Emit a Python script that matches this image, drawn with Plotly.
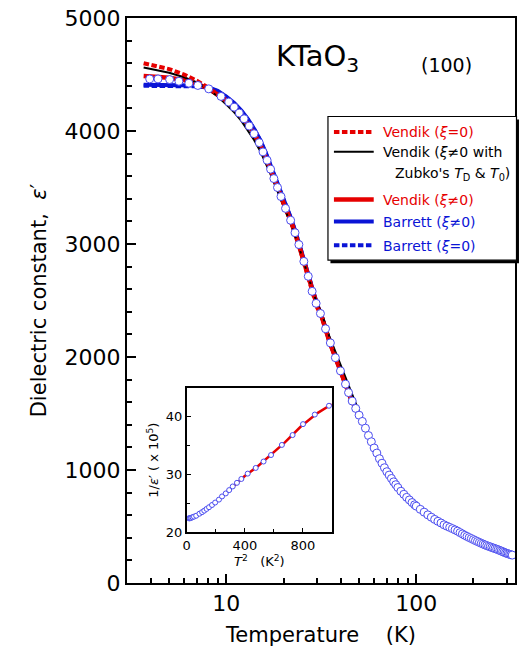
import plotly.graph_objects as go

# ---- measured dielectric constant of KTaO3 (100) ----
temp_K = [3.95, 4.37, 5.03, 5.63, 6.35, 7.08, 8.08, 9.38, 10.3, 11.0, 11.7, 12.4,
          13.2, 14.0, 14.9, 15.6, 16.4, 17.1, 17.8, 18.6, 19.4, 20.5, 21.8, 23.0,
          24.1, 25.6, 27.0, 28.3, 29.7, 31.3, 33.3, 35.3, 37.5, 39.9, 42.4, 44.0,
          46, 48, 50, 52, 54, 56, 58, 60, 62, 64, 66, 68, 70, 72, 74, 76, 78, 80,
          83, 86, 89, 92, 95, 98, 100, 105, 110, 115, 120, 125, 130, 135, 140, 145,
          150, 155, 160, 165, 170, 175, 180, 185, 190, 195, 200, 205, 210, 215, 220,
          225, 230, 235, 240, 245, 250, 255, 260, 265, 270, 275, 280, 285, 290, 295,
          300, 305, 310, 315, 320]
eps_meas = [4461, 4461, 4455, 4440, 4423, 4403, 4373, 4306, 4256, 4211, 4159, 4108,
            4044, 3976, 3897, 3815, 3741, 3662, 3579, 3500, 3420, 3315, 3210, 3100,
            2995, 2846, 2714, 2581, 2475, 2385, 2250, 2125, 1994, 1877, 1760, 1685,
            1610, 1545, 1485, 1430, 1370, 1305, 1250, 1195, 1150, 1100, 1060, 1020,
            985, 955, 925, 895, 870, 845, 812, 785, 758, 735, 712, 692, 680, 652, 627,
            603, 582, 563, 546, 531, 515, 503, 492, 481, 470, 459, 446, 434, 422, 412,
            402, 393, 384, 375, 367, 359, 351, 344, 337, 331, 325, 320, 314, 309, 304,
            299, 294, 288, 283, 277, 272, 266, 262, 258, 254, 250, 247]

# ---- model curves on a common temperature grid ----
T_fit = [3.67, 4, 5, 6, 7, 8, 9, 10, 11, 12, 13, 14, 15, 16, 17, 18, 19, 20,
         22, 24, 26, 28, 30, 31.6, 35, 40, 45, 50]
vendik_xi0 = [4600, 4585, 4548, 4500, 4445, 4385, 4325, 4265, 4205, 4135, 4058, 3975,
              3883, 3776, 3670, 3558, 3458, 3360, 3190, 2998, 2808, 2610, 2440, 2370,
              2130, 1872, 1640, 1485]
vendik_zubko = [4562, 4550, 4515, 4475, 4430, 4372, 4305, 4235, 4165, 4090, 4005, 3920,
                3830, 3730, 3628, 3525, 3425, 3330, 3165, 2985, 2810, 2630, 2475, 2400,
                2175, 1925, 1695, 1515]
vendik_xi = [4487, 4485, 4472, 4450, 4418, 4378, 4328, 4272, 4212, 4137, 4060, 3976,
             3885, 3778, 3672, 3560, 3460, 3362, 3192, 3000, 2810, 2612, 2460, 2370,
             2130, 1873, 1641, 1485]
barrett_xi = [4410, 4410, 4410, 4408, 4402, 4388, 4355, 4305, 4248, 4180, 4105, 4020,
              3928, 3822, 3715, 3600, 3495, 3395, 3220, 3022, 2830, 2628, 2470, 2375,
              2135, 1876, 1643, 1486]
barrett_xi0 = [4400, 4400, 4400, 4399, 4395, 4383, 4350, 4300, 4243, 4175, 4100, 4016,
               3924, 3818, 3711, 3596, 3491, 3391, 3217, 3020, 2828, 2625, 2467, 2373,
               2133, 1875, 1642, 1485]

RED = "#e60000"
BLUE = "#0a14d6"
MARK = "#4a4cf0"
FONT = "DejaVu Sans"
DASH = "5.5px,2.5px"

W, H = 523, 664
ML, MR, MT, MB = 127, 6, 15, 81
PW, PH = W - ML - MR, H - MT - MB


def px(x):
    return (x - ML) / PW


def py(y):
    return 1 - (y - MT) / PH


fig = go.Figure()

curves = [
    (barrett_xi0, BLUE, 4, DASH),
    (barrett_xi, BLUE, 4, "solid"),
    (vendik_xi, RED, 4.5, "solid"),
    (vendik_zubko, "black", 2, "solid"),
    (vendik_xi0, RED, 4, DASH),
]
for vals, col, lw, dash in curves:
    fig.add_trace(go.Scatter(x=T_fit, y=vals, mode="lines", showlegend=False,
                             line=dict(color=col, width=lw, dash=dash)))

fig.add_trace(go.Scatter(x=temp_K, y=eps_meas, mode="markers", showlegend=False,
                         marker=dict(symbol="circle", size=8, color="white",
                                     line=dict(color=MARK, width=1))))

# ---- inset: 1/eps' versus T^2 ----
T2_meas = [t * t for t, e in zip(temp_K, eps_meas) if t * t <= 1001]
inv_meas = [1e5 / e for t, e in zip(temp_K, eps_meas) if t * t <= 1001]
T2_fit = [t * t for t in T_fit if t * t <= 1001]
inv_fit = [1e5 / e for t, e in zip(T_fit, vendik_xi) if t * t <= 1001]

fig.add_trace(go.Scatter(x=T2_fit, y=inv_fit, mode="lines", showlegend=False,
                         xaxis="x2", yaxis="y2", line=dict(color=RED, width=2.5)))
fig.add_trace(go.Scatter(x=T2_meas, y=inv_meas, mode="markers", showlegend=False,
                         xaxis="x2", yaxis="y2",
                         marker=dict(symbol="circle", size=5, color="white",
                                     line=dict(color=MARK, width=1))))

axis_common = dict(showline=True, linecolor="black", mirror=True, showgrid=False,
                   zeroline=False, ticks="inside", tickcolor="black")

fig.update_layout(
    width=W, height=H,
    margin=dict(l=ML, r=MR, t=MT, b=MB),
    paper_bgcolor="white", plot_bgcolor="white",
    font=dict(family=FONT, color="black"),
    xaxis=dict(type="log", range=[0.4771, 2.5198], linewidth=2,
               tickvals=[10, 100], ticktext=["10", "100"], ticklen=9, tickwidth=1.5,
               minor=dict(tickvals=[4, 5, 6, 7, 8, 9, 20, 30, 40, 50, 60, 70, 80, 90,
                                    200, 300],
                          ticks="inside", ticklen=5, tickwidth=1.5, tickcolor="black",
                          showgrid=False),
               tickfont=dict(size=22),
               title=dict(text="Temperature    (K)", font=dict(size=21), standoff=12),
               **axis_common),
    yaxis=dict(range=[0, 5000], linewidth=2, tickmode="linear", tick0=0, dtick=1000,
               ticklen=9, tickwidth=1.5,
               minor=dict(dtick=200, ticks="inside", ticklen=5, tickwidth=1.5,
                          tickcolor="black", showgrid=False),
               tickfont=dict(size=22),
               title=dict(text="Dielectric constant,  <i>ε</i>′", font=dict(size=21),
                          standoff=12),
               **axis_common),
    xaxis2=dict(domain=[px(187), px(333)], anchor="y2", range=[0, 1000], linewidth=1.5,
                tickmode="linear", tick0=0, dtick=400, ticklen=5, tickwidth=1,
                minor=dict(dtick=200, ticks="inside", ticklen=4, tickwidth=1,
                           tickcolor="black", showgrid=False),
                tickfont=dict(size=13),
                title=dict(text="<i>T</i><sup>2</sup>   (K<sup>2</sup>)",
                           font=dict(size=13), standoff=2),
                **axis_common),
    yaxis2=dict(domain=[py(532), py(387)], anchor="x2", range=[20, 45], linewidth=1.5,
                tickmode="linear", tick0=20, dtick=10, ticklen=5, tickwidth=1,
                minor=dict(dtick=5, ticks="inside", ticklen=4, tickwidth=1,
                           tickcolor="black", showgrid=False),
                tickfont=dict(size=13),
                title=dict(text="1/<i>ε</i>′ ( x 10<sup>5</sup>)", font=dict(size=13),
                           standoff=4),
                **axis_common),
)

# ---- legend box drawn on paper coordinates ----
shapes = [
    dict(type="rect", xref="paper", yref="paper", x0=px(331.5), x1=px(521),
         y0=py(261.5), y1=py(117), fillcolor="black", line=dict(width=0)),
    dict(type="rect", xref="paper", yref="paper", x0=px(329), x1=px(518.5),
         y0=py(258.5), y1=py(114), fillcolor="white",
         line=dict(color="black", width=1.2)),
]
legend_rows = [
    (129.5, RED, 4, DASH, "Vendik (<i>ξ</i>=0)"),
    (149.5, "black", 2, "solid", "Vendik (<i>ξ</i>≠0 with"),
    (197.5, RED, 4.5, "solid", "Vendik (<i>ξ</i>≠0)"),
    (219.5, BLUE, 4, "solid", "Barrett (<i>ξ</i>≠0)"),
    (243.5, BLUE, 4, DASH, "Barrett (<i>ξ</i>=0)"),
]
annotations = []
for yy, col, lw, dash, label in legend_rows:
    shapes.append(dict(type="line", xref="paper", yref="paper", x0=px(335), x1=px(375),
                       y0=py(yy), y1=py(yy), line=dict(color=col, width=lw, dash=dash)))
    annotations.append(dict(xref="paper", yref="paper", x=px(382), y=py(yy + 0.5),
                            xanchor="left", yanchor="middle", showarrow=False,
                            text=label, font=dict(size=14, color=col)))
annotations.append(dict(xref="paper", yref="paper", x=px(394), y=py(172),
                        xanchor="left", yanchor="middle", showarrow=False,
                        text="Zubko's <i>T</i><sub>D</sub> & <i>T</i><sub>0</sub>)",
                        font=dict(size=14, color="black")))

# ---- sample label ----
annotations.append(dict(xref="paper", yref="paper", x=px(275), y=py(64),
                        xanchor="left", yanchor="bottom", showarrow=False,
                        text="KTaO<sub>3</sub>", font=dict(size=29),
                        yshift=-12))
annotations.append(dict(xref="paper", yref="paper", x=px(421), y=py(62),
                        xanchor="left", yanchor="middle", showarrow=False,
                        text="(100)", font=dict(size=19)))

fig.update_layout(shapes=shapes, annotations=annotations)

fig.write_html("out.html")
